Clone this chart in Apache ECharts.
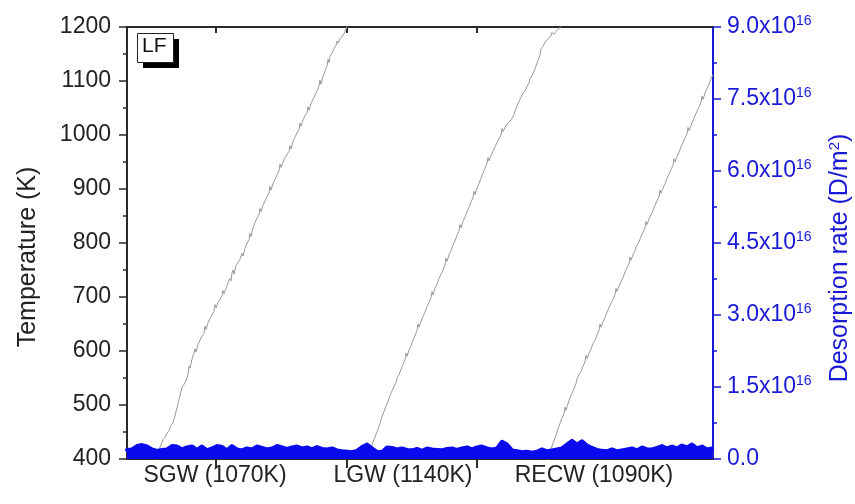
<!DOCTYPE html>
<html>
<head>
<meta charset="utf-8">
<script src="https://cdn.jsdelivr.net/npm/echarts@6/dist/echarts.min.js"></script>
<style>html,body{margin:0;padding:0;background:#fff}#c{width:855px;height:504px}</style>
</head>
<body>
<div id="c"></div>
<script>
// ---- data ----
var xTickValues = [89, 220, 350];
var xLabelValues = [88, 276, 467];
var xLabelTexts = ['SGW (1070K)', 'LGW (1140K)', 'RECW (1090K)'];
var tempTicks = [400, 1200, 100];          // min, max, interval (K)
var rateTicks = [0, 9, 1.5];               // min, max, interval (x1e16 D/m2)
var panelLabel = 'LF';

// temperature ramps: [time (a.u.), T (K)]
var rampSGW = [[26,385],[30,405],[33,422],[36,436],[38,440],[40,448],[42,452],[44,462],[46,467],[48,480],[50,495],[52,510],[54,525],[55,533],[57,538],[59,545],[61,556],[62,572],[63,568],[65,585],[67,596],[68,604],[69,598],[71,612],[73,620],[75,628],[77,633],[78,646],[79,640],[81,652],[83,660],[85,668],[87,673],[88,686],[89,680],[91,690],[93,695],[95,703],[96,712],[97,706],[99,716],[101,726],[103,734],[104,730],[105,745],[106,750],[107,742],[109,758],[111,764],[113,770],[115,781],[116,776],[118,790],[120,800],[122,806],[123,818],[124,812],[126,828],[128,838],[130,846],[132,852],[133,864],[134,858],[136,870],[138,878],[140,886],[142,893],[143,905],[144,898],[146,910],[148,918],[150,926],[152,934],[153,946],[154,940],[156,950],[158,958],[160,964],[162,970],[163,980],[164,974],[166,988],[168,996],[170,1004],[172,1010],[173,1022],[174,1016],[176,1028],[178,1036],[180,1041],[181,1052],[182,1046],[184,1058],[186,1066],[188,1074],[190,1082],[192,1090],[193,1102],[194,1094],[196,1108],[198,1118],[200,1128],[201,1140],[202,1134],[203,1146],[205,1152],[207,1160],[209,1166],[210,1174],[211,1170],[213,1178],[215,1182],[217,1188],[219,1196],[221,1206]];
var rampLGW = [[241,400],[243,413],[245,426],[247,436],[249,446],[251,455],[253,466],[255,478],[257,488],[259,498],[261,506],[263,518],[265,526],[267,534],[269,542],[270,550],[272,556],[274,566],[276,575],[278,584],[279,596],[280,590],[282,602],[284,610],[286,620],[288,628],[290,638],[291,650],[292,644],[294,655],[296,664],[298,672],[300,682],[302,690],[304,699],[305,710],[306,704],[308,716],[310,724],[312,734],[314,742],[316,750],[318,760],[319,772],[320,766],[322,778],[324,786],[326,796],[328,804],[330,814],[332,822],[333,834],[334,828],[336,840],[338,848],[340,858],[342,866],[344,876],[346,884],[347,896],[348,890],[350,902],[352,910],[354,920],[356,930],[358,938],[360,948],[361,958],[362,952],[364,962],[366,970],[368,978],[370,986],[372,994],[374,1000],[375,1012],[376,1006],[378,1014],[380,1020],[382,1024],[384,1028],[386,1034],[388,1044],[390,1054],[392,1062],[394,1070],[396,1078],[398,1082],[400,1090],[402,1096],[403,1104],[405,1110],[407,1118],[409,1128],[411,1138],[413,1148],[414,1160],[416,1164],[418,1172],[420,1176],[422,1178],[424,1184],[425,1190],[427,1186],[429,1192],[431,1195],[433,1199],[435,1206]];
var rampRECW = [[420,398],[423,413],[425,424],[427,434],[429,444],[431,456],[433,466],[435,476],[437,484],[438,496],[439,490],[441,502],[443,514],[445,522],[447,530],[449,540],[450,548],[452,556],[454,562],[456,572],[458,580],[459,592],[460,586],[462,596],[464,604],[466,614],[468,620],[470,630],[472,638],[473,650],[474,644],[476,654],[478,662],[480,672],[482,680],[484,688],[486,696],[488,704],[489,716],[490,710],[492,720],[494,728],[496,736],[498,746],[500,754],[502,762],[503,774],[504,768],[506,778],[508,786],[510,796],[512,802],[514,812],[516,820],[518,828],[519,840],[520,834],[522,844],[524,852],[526,860],[528,870],[530,878],[532,886],[533,898],[534,892],[536,902],[538,910],[540,920],[542,928],[544,936],[546,944],[547,956],[548,950],[550,960],[552,968],[554,978],[556,986],[558,994],[560,1002],[561,1014],[562,1008],[564,1018],[566,1026],[568,1036],[570,1044],[572,1052],[574,1060],[575,1072],[576,1066],[578,1078],[580,1086],[582,1094],[584,1104],[586,1112]];

// desorption rate (x1e16 D/m2), sampled every 5 time units from 0
var rateStep = 5;
var rateValues = [0.19,0.2,0.27,0.29,0.26,0.2,0.17,0.19,0.2,0.27,0.26,0.2,0.24,0.26,0.19,0.26,0.18,0.22,0.27,0.25,0.18,0.27,0.2,0.18,0.22,0.2,0.26,0.23,0.2,0.22,0.27,0.24,0.21,0.24,0.26,0.22,0.24,0.2,0.25,0.21,0.2,0.22,0.18,0.16,0.15,0.14,0.17,0.25,0.3,0.22,0.15,0.14,0.24,0.23,0.2,0.22,0.19,0.18,0.21,0.17,0.22,0.2,0.19,0.18,0.21,0.22,0.19,0.22,0.24,0.2,0.24,0.26,0.22,0.2,0.22,0.36,0.3,0.18,0.16,0.14,0.15,0.13,0.15,0.2,0.16,0.18,0.2,0.22,0.3,0.38,0.3,0.37,0.28,0.23,0.19,0.17,0.16,0.2,0.16,0.18,0.2,0.22,0.18,0.24,0.2,0.2,0.23,0.27,0.22,0.26,0.22,0.28,0.24,0.3,0.22,0.26,0.2,0.22];

// ---- chart ----
var rateData = rateValues.map(function (v, i) { return [i * rateStep, v]; });
var BLUE = '#1a1ad6';
var AXIS = '#2a2a2a';
var FONT = 'Liberation Sans, Arial, sans-serif';
var chart = echarts.init(document.getElementById('c'), null, {renderer: 'canvas'});
chart.setOption({
  animation: false,
  backgroundColor: '#fff',
  grid: {left: 127, right: 142, top: 27, bottom: 45, containLabel: false, outerBoundsMode: 'none'},
  xAxis: [{
    type: 'value', min: 0, max: 586, position: 'bottom',
    axisLine: {show: true, onZero: false, lineStyle: {color: AXIS, width: 2}},
    axisTick: {show: true, inside: false, length: 9, customValues: xTickValues, lineStyle: {color: AXIS, width: 2}},
    axisLabel: {show: true, margin: 5, customValues: xLabelValues, color: '#222', fontFamily: FONT, fontSize: 23,
      formatter: function (v) { var i = xLabelValues.indexOf(v); return i >= 0 ? xLabelTexts[i] : ''; }},
    splitLine: {show: false}
  }, {
    type: 'value', min: 0, max: 586, position: 'top',
    axisLine: {show: true, onZero: false, lineStyle: {color: AXIS, width: 2}},
    axisTick: {show: true, inside: true, length: 6, customValues: xTickValues, lineStyle: {color: AXIS, width: 2}},
    axisLabel: {show: false},
    splitLine: {show: false}
  }],
  yAxis: [{
    type: 'value', min: tempTicks[0], max: tempTicks[1], interval: tempTicks[2], position: 'left',
    name: 'Temperature (K)', nameLocation: 'middle', nameGap: 86, nameRotate: 90,
    nameTextStyle: {color: '#222', fontFamily: FONT, fontSize: 25, padding: [0, 28, 0, 0]},
    axisLine: {show: true, onZero: false, lineStyle: {color: AXIS, width: 2}},
    axisTick: {show: true, inside: false, length: 8, lineStyle: {color: AXIS, width: 1.5}},
    minorTick: {show: true, splitNumber: 2, length: 4, lineStyle: {color: AXIS, width: 1.5}},
    axisLabel: {margin: 16, color: '#222', fontFamily: FONT, fontSize: 23,
      formatter: function (v) { return String(v); }},
    splitLine: {show: false}
  }, {
    type: 'value', min: rateTicks[0], max: rateTicks[1], interval: rateTicks[2], position: 'right',
    name: 'Desorption rate (D/m{s|2})', nameLocation: 'middle', nameGap: 114, nameRotate: 90,
    nameTextStyle: {color: BLUE, fontFamily: FONT, fontSize: 25, padding: [0, 30, 0, 0],
      rich: {s: {fontSize: 15, color: BLUE, fontFamily: FONT, verticalAlign: 'top', padding: [0, 0, 12, 0]}}},
    axisLine: {show: true, onZero: false, lineStyle: {color: BLUE, width: 2}},
    axisTick: {show: true, inside: false, length: 8, lineStyle: {color: BLUE, width: 1.5}},
    minorTick: {show: true, splitNumber: 2, length: 4, lineStyle: {color: BLUE, width: 1.5}},
    axisLabel: {margin: 14, color: BLUE, fontFamily: FONT, fontSize: 23,
      formatter: function (v) { return v === 0 ? '0.0' : v.toFixed(1) + 'x10{s|16}'; },
      rich: {s: {fontSize: 14, color: BLUE, fontFamily: FONT, verticalAlign: 'top', padding: [0, 0, 12, 0]}}},
    splitLine: {show: false}
  }],
  series: [
    {type: 'line', name: 'SGW', xAxisIndex: 0, yAxisIndex: 0, data: rampSGW, showSymbol: false, symbol: 'none',
      lineStyle: {color: '#999', width: 1}, z: 2, clip: true},
    {type: 'line', name: 'LGW', xAxisIndex: 0, yAxisIndex: 0, data: rampLGW, showSymbol: false, symbol: 'none',
      lineStyle: {color: '#999', width: 1}, z: 2, clip: true},
    {type: 'line', name: 'RECW', xAxisIndex: 0, yAxisIndex: 0, data: rampRECW, showSymbol: false, symbol: 'none',
      lineStyle: {color: '#999', width: 1}, z: 2, clip: true},
    {type: 'line', name: 'rate', xAxisIndex: 0, yAxisIndex: 1, data: rateData, showSymbol: false, symbol: 'none',
      smooth: false, lineStyle: {color: '#0a0aee', width: 4, join: 'round', cap: 'round'},
      areaStyle: {color: '#0a0aee', opacity: 1, origin: 'start'}, z: 3, clip: true}
  ],
  graphic: [
    {type: 'rect', left: 143, top: 39, shape: {width: 36, height: 29}, style: {fill: '#000'}, z: 10},
    {type: 'rect', left: 137, top: 33, shape: {width: 36, height: 29}, style: {fill: '#fff', stroke: '#222', lineWidth: 1}, z: 11},
    {type: 'text', left: 142, top: 36, style: {text: panelLabel, fill: '#111', font: '21px ' + FONT}, z: 12}
  ]
});
</script>
</body>
</html>
